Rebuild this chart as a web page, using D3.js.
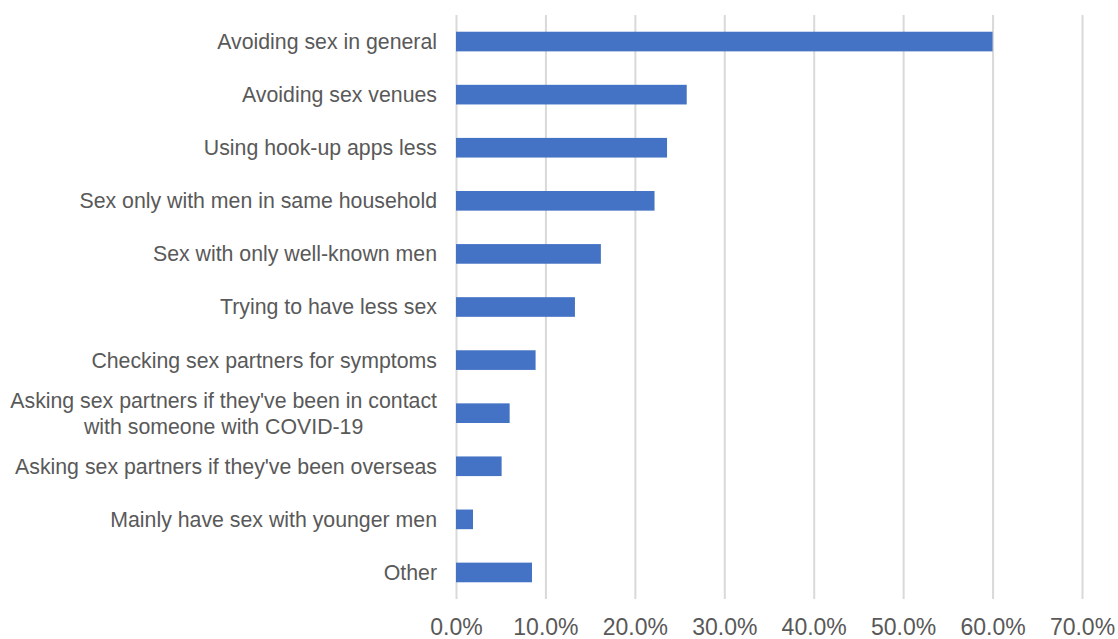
<!DOCTYPE html>
<html lang="en">
<head>
  <meta charset="UTF-8">
  <title>Changes in sexual behaviour</title>
  <script src="https://d3js.org/d3.v7.min.js"></script>
  <style>
    body { margin: 0; background: #fff; }
    svg text { font-family: Arial, "Liberation Sans", sans-serif; fill: #595959; }
  </style>
</head>
<body>
  <div id="chart"></div>
  <script type="text/javascript">
    // categories top to bottom, with line breaks for the long one
    var categories = [
      ["Avoiding sex in general"],
      ["Avoiding sex venues"],
      ["Using hook-up apps less"],
      ["Sex only with men in same household"],
      ["Sex with only well-known men"],
      ["Trying to have less sex"],
      ["Checking sex partners for symptoms"],
      ["Asking sex partners if they've been in contact", "with someone with COVID-19"],
      ["Asking sex partners if they've been overseas"],
      ["Mainly have sex with younger men"],
      ["Other"]
    ];
    var values = [0.600, 0.258, 0.236, 0.222, 0.162, 0.133, 0.089, 0.060, 0.051, 0.019, 0.085];
    var xTicks = [0, 0.1, 0.2, 0.3, 0.4, 0.5, 0.6, 0.7];

    var width = 1118, height = 639;
    var margin = { top: 15, right: 36, bottom: 40, left: 456 };

    var svg = d3.select("#chart").append("svg")
      .attr("width", width)
      .attr("height", height);

    var keys = categories.map(function (d, i) { return "c" + i; });

    var x = d3.scaleLinear()
      .domain([0, 0.7])
      .range([margin.left, width - margin.right]);

    var y = d3.scaleBand()
      .domain(keys)
      .range([margin.top, height - margin.bottom])
      .paddingInner(0.63)
      .paddingOuter(0.315);

    // vertical gridlines
    svg.append("g")
      .attr("transform", "translate(0," + (height - margin.bottom) + ")")
      .call(d3.axisBottom(x).tickValues(xTicks).tickSize(-(height - margin.bottom - margin.top)).tickFormat(""))
      .call(function (g) { g.select(".domain").remove(); })
      .call(function (g) {
        g.selectAll("line").attr("stroke", "#d9d9d9").attr("stroke-width", 2);
      });

    // bars
    svg.append("g").selectAll("rect")
      .data(values)
      .enter()
      .append("rect")
        .attr("x", x(0))
        .attr("y", function (d, i) { return y(keys[i]); })
        .attr("width", function (d) { return x(d) - x(0); })
        .attr("height", y.bandwidth())
        .attr("fill", "#4472c4");

    // x tick labels
    svg.append("g")
      .attr("transform", "translate(0," + (height - margin.bottom) + ")")
      .call(d3.axisBottom(x).tickValues(xTicks).tickSize(0).tickPadding(20).tickFormat(d3.format(".1%")))
      .call(function (g) { g.select(".domain").remove(); })
      .call(function (g) {
        g.selectAll("text").style("font-size", "23px").attr("fill", "#595959");
      });

    // category labels
    var labels = svg.append("g").selectAll("g")
      .data(categories)
      .enter()
      .append("g")
        .attr("transform", function (d, i) {
          return "translate(437," + (y(keys[i]) + y.bandwidth() / 2) + ")";
        });

    labels.each(function (lines) {
      var g = d3.select(this);
      var lh = 26;
      var t = g.append("text")
        .style("font-size", "21.3px")
        .attr("text-anchor", "end");
      lines.forEach(function (l, j) {
        t.append("tspan")
          .attr("x", 0)
          .attr("y", (j - (lines.length - 1) / 2) * lh)
          .attr("dy", "0.35em")
          .text(l);
      });
      // centre multi-line labels on their widest line
      if (lines.length > 1) {
        var w = t.node().getBBox().width;
        t.attr("text-anchor", "middle");
        t.selectAll("tspan").attr("x", -w / 2);
      }
    });
  </script>
</body>
</html>
